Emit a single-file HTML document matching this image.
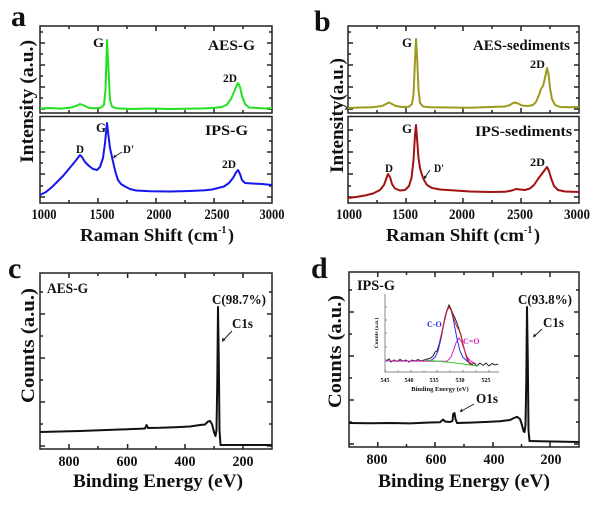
<!DOCTYPE html>
<html><head><meta charset="utf-8"><style>
html,body{margin:0;padding:0;background:#fff;}
svg{display:block;}
text{font-family:"Liberation Serif",serif;font-weight:bold;fill:#111;}
</style></head><body>
<svg width="601" height="511" viewBox="0 0 601 511" xmlns="http://www.w3.org/2000/svg">
<rect width="601" height="511" fill="#fff"/>

<!-- ================= Panel a ================= -->
<text x="11" y="26" font-size="30">a</text>
<g stroke="#222" stroke-width="1.5" fill="none">
<rect x="40" y="26" width="232" height="87"/>
<rect x="40" y="116.5" width="232" height="86.5"/>
<path d="M69,26v3M98,26v5M127,26v3M156,26v5M185,26v3M214,26v5M243,26v3
M69,113v-3M98,113v-5M127,113v-3M156,113v-5M185,113v-3M214,113v-5M243,113v-3
M69,203v-3M98,203v-5M127,203v-3M156,203v-5M185,203v-3M214,203v-5M243,203v-3
M40,32h3M40,43h5M40,54h3M40,65h5M40,76h3M40,87h5M40,98h3M40,109h5
M272,32h-3M272,43h-5M272,54h-3M272,65h-5M272,76h-3M272,87h-5M272,98h-3M272,109h-5
M40,130h5M40,141h3M40,152h5M40,163h3M40,174h5M40,186h3M40,197h5
M272,130h-5M272,141h-3M272,152h-5M272,163h-3M272,174h-5M272,186h-3M272,197h-5"/>
</g>
<path fill="none" stroke="#22e022" stroke-width="2" stroke-linejoin="round" d="M40,108.5 L50,108 L60,108.6 L70,107.8 L76,106 L80,104 L84,105.5 L89,108 L95,108.3 L101,107.6 L104,105 L105.5,90 L107,40 L108.5,70 L110,100 L112,106.5 L116,108.3 L130,109 L150,108.5 L170,109 L190,108.6 L205,108.4 L215,107.8 L222,107 L227,104.5 L231,99 L234,92 L236.5,86 L238,83 L240,87 L242,96 L245,104 L249,107.5 L258,108 L265,108.5 L272,108"/>
<path fill="none" stroke="#1616ee" stroke-width="2" stroke-linejoin="round" d="M40,195 L46,192 L52,187 L58,181 L63,176 L68,170 L73,164 L77,159 L80,155 L82,157 L85,162 L89,166 L93,169 L97,170 L100,167 L103,158 L105,143 L106.5,128 L107,123 L108,132 L110,148 L112,157 L114,166 L116,174 L118,180 L121,184 L125,186.5 L130,189 L136,190.5 L150,191.2 L170,191.5 L190,191 L205,190.3 L212,189.5 L218,188 L224,186.5 L229,183 L233,178 L236,172.5 L238,170 L240,174 L242,180 L245,183 L252,183.5 L262,184 L272,185"/>
<text x="93" y="47" font-size="13" textLength="11" lengthAdjust="spacingAndGlyphs">G</text>
<text x="208" y="50" font-size="15" textLength="47" lengthAdjust="spacingAndGlyphs">AES-G</text>
<text x="223" y="82" font-size="12" textLength="14" lengthAdjust="spacingAndGlyphs">2D</text>
<text x="96" y="132" font-size="13" textLength="10" lengthAdjust="spacingAndGlyphs">G</text>
<text x="205" y="135" font-size="15" textLength="43" lengthAdjust="spacingAndGlyphs">IPS-G</text>
<text x="76" y="153" font-size="12" textLength="8" lengthAdjust="spacingAndGlyphs">D</text>
<text x="123" y="153" font-size="12" textLength="11" lengthAdjust="spacingAndGlyphs">D'</text>
<path d="M122,152 L114,157" stroke="#222" stroke-width="1"/>
<path d="M113,158 L114.5,154.5 L116.5,157.2Z" fill="#222"/>
<text x="222" y="168" font-size="12" textLength="14" lengthAdjust="spacingAndGlyphs">2D</text>
<g font-size="15" text-anchor="middle">
<text x="44" y="219" textLength="25" lengthAdjust="spacingAndGlyphs">1000</text>
<text x="102" y="219" textLength="25" lengthAdjust="spacingAndGlyphs">1500</text>
<text x="159" y="219" textLength="25" lengthAdjust="spacingAndGlyphs">2000</text>
<text x="217" y="219" textLength="25" lengthAdjust="spacingAndGlyphs">2500</text>
<text x="272" y="219" textLength="25" lengthAdjust="spacingAndGlyphs">3000</text>
</g>
<text x="80" y="241" font-size="18" textLength="138" lengthAdjust="spacingAndGlyphs">Raman Shift (cm</text>
<text x="218" y="233" font-size="10">-1</text>
<text x="228" y="241" font-size="18">)</text>
<text transform="translate(33,101.5) rotate(-90)" font-size="19" text-anchor="middle" textLength="123" lengthAdjust="spacingAndGlyphs">Intensity (a.u.)</text>

<!-- ================= Panel b ================= -->
<text x="314" y="31" font-size="30">b</text>
<g stroke="#222" stroke-width="1.5" fill="none">
<rect x="348" y="26" width="231" height="87"/>
<rect x="348" y="116.5" width="231" height="86.5"/>
<path d="M377,26v3M406,26v5M435,26v3M463,26v5M492,26v3M521,26v5M550,26v3
M377,113v-3M406,113v-5M435,113v-3M463,113v-5M492,113v-3M521,113v-5M550,113v-3
M377,203v-3M406,203v-5M435,203v-3M463,203v-5M492,203v-3M521,203v-5M550,203v-3
M348,32h3M348,43h5M348,54h3M348,65h5M348,76h3M348,87h5M348,98h3M348,109h5
M579,32h-3M579,43h-5M579,54h-3M579,65h-5M579,76h-3M579,87h-5M579,98h-3M579,109h-5
M348,130h5M348,141h3M348,152h5M348,163h3M348,174h5M348,186h3M348,197h5
M579,130h-5M579,141h-3M579,152h-5M579,163h-3M579,174h-5M579,186h-3M579,197h-5"/>
</g>
<path fill="none" stroke="#9c9a1c" stroke-width="2" stroke-linejoin="round" d="M348,108 L360,107.5 L372,107.2 L382,106 L386,104 L389,102.5 L392,104 L396,106 L402,107 L409,106.8 L412,104 L413.5,95 L415,60 L416,39 L417,55 L418.5,90 L420,103 L423,106.5 L430,107.2 L450,107.5 L470,107.8 L490,107 L505,106.5 L510,105 L514,102.5 L518,103.5 L522,105.5 L528,106 L533,105 L536,102 L539,95 L541,89 L543,86 L545,78 L547,68 L548.5,74 L550,88 L552,99 L555,105 L560,107 L570,107.3 L579,107"/>
<path fill="none" stroke="#a01212" stroke-width="2" stroke-linejoin="round" d="M348,198 L356,197 L365,195.5 L373,193.5 L380,190 L384,185 L386.5,178 L388,174 L390,177 L392,184 L395,188.5 L400,190.5 L405,190 L409,186 L411.5,178 L413.5,160 L415,135 L416,125 L417,138 L418.5,158 L420,168 L422,175 L424,180 L427,185 L432,188 L440,189.5 L455,190.5 L470,191.5 L490,192 L505,191.8 L512,190.5 L516,189 L520,189.5 L525,190 L530,188.5 L534,185 L538,179 L541,175 L544,171 L547,167 L549,171 L551,178 L554,186 L558,190 L565,191.5 L579,192"/>
<text x="402" y="47" font-size="13" textLength="10" lengthAdjust="spacingAndGlyphs">G</text>
<text x="473" y="50" font-size="15" textLength="97" lengthAdjust="spacingAndGlyphs">AES-sediments</text>
<text x="530" y="68" font-size="12" textLength="15" lengthAdjust="spacingAndGlyphs">2D</text>
<text x="402" y="133" font-size="13" textLength="10" lengthAdjust="spacingAndGlyphs">G</text>
<text x="475" y="136" font-size="15" textLength="97" lengthAdjust="spacingAndGlyphs">IPS-sediments</text>
<text x="385" y="172" font-size="12" textLength="8" lengthAdjust="spacingAndGlyphs">D</text>
<text x="434" y="172" font-size="12" textLength="10" lengthAdjust="spacingAndGlyphs">D'</text>
<path d="M430,170 L424.5,178" stroke="#222" stroke-width="1"/>
<path d="M424,179.5 L424,175.5 L427,177Z" fill="#222"/>
<text x="530" y="166" font-size="12" textLength="15" lengthAdjust="spacingAndGlyphs">2D</text>
<g font-size="15" text-anchor="middle">
<text x="349" y="219" textLength="26" lengthAdjust="spacingAndGlyphs">1000</text>
<text x="405" y="219" textLength="26" lengthAdjust="spacingAndGlyphs">1500</text>
<text x="462" y="219" textLength="26" lengthAdjust="spacingAndGlyphs">2000</text>
<text x="520" y="219" textLength="26" lengthAdjust="spacingAndGlyphs">2500</text>
<text x="577" y="219" textLength="26" lengthAdjust="spacingAndGlyphs">3000</text>
</g>
<text x="386" y="241" font-size="18" textLength="138" lengthAdjust="spacingAndGlyphs">Raman Shift (cm</text>
<text x="524" y="233" font-size="10">-1</text>
<text x="534" y="241" font-size="18">)</text>
<text transform="translate(343,115.5) rotate(-90)" font-size="19" text-anchor="middle" textLength="115" lengthAdjust="spacingAndGlyphs">Intensity(a.u.)</text>

<!-- ================= Panel c ================= -->
<text x="8" y="278" font-size="30">c</text>
<g stroke="#222" stroke-width="1.5" fill="none">
<rect x="40" y="273" width="232" height="176"/>
<path d="M69,273v5M98,273v3M127.6,273v5M156,273v3M185,273v5M214,273v3M243,273v5
M69,449v-5M98,449v-3M127.6,449v-5M156,449v-3M185,449v-5M214,449v-3M243,449v-5
M40,292h3M40,314h5M40,336h3M40,358h5M40,380h3M40,402h5M40,424h3M40,446h5
M272,292h-3M272,314h-5M272,336h-3M272,358h-5M272,380h-3M272,402h-5M272,424h-3M272,446h-5"/>
</g>
<path fill="none" stroke="#111" stroke-width="2" stroke-linejoin="round" d="M40,432 L60,431.5 L80,431 L100,430.3 L120,429.5 L140,428.8 L145,428.5 L146.5,425 L148,428 L160,427.8 L175,427.2 L190,426.5 L200,425 L205,424.5 L208,421.5 L210,421 L212,424 L214,432 L215.5,436 L216.5,430 L217.3,380 L218,307 L218.8,360 L219.5,430 L220.5,445 L230,445 L250,445 L272,445"/>
<text x="47" y="293" font-size="15" textLength="41" lengthAdjust="spacingAndGlyphs">AES-G</text>
<text x="212" y="304" font-size="14" textLength="54" lengthAdjust="spacingAndGlyphs">C(98.7%)</text>
<text x="232" y="328" font-size="14" textLength="21" lengthAdjust="spacingAndGlyphs">C1s</text>
<path d="M232,331 L223.5,340" stroke="#222" stroke-width="1"/>
<path d="M222,342 L222.5,337.5 L225.5,340Z" fill="#222"/>
<g font-size="15" text-anchor="middle">
<text x="69" y="466" textLength="21" lengthAdjust="spacingAndGlyphs">800</text>
<text x="127" y="466" textLength="21" lengthAdjust="spacingAndGlyphs">600</text>
<text x="185" y="466" textLength="21" lengthAdjust="spacingAndGlyphs">400</text>
<text x="243" y="466" textLength="21" lengthAdjust="spacingAndGlyphs">200</text>
</g>
<text x="73" y="487" font-size="19" textLength="170" lengthAdjust="spacingAndGlyphs">Binding Energy (eV)</text>
<text transform="translate(34,345.5) rotate(-90)" font-size="19" text-anchor="middle" textLength="115" lengthAdjust="spacingAndGlyphs">Counts (a.u.)</text>

<!-- ================= Panel d ================= -->
<text x="311" y="278" font-size="30">d</text>
<g stroke="#222" stroke-width="1.5" fill="none">
<rect x="349" y="272" width="230" height="175"/>
<path d="M377.75,272v5M406.5,272v3M435,272v5M464,272v3M493,272v5M521.5,272v3M550,272v5
M377.75,447v-5M406.5,447v-3M435,447v-5M464,447v-3M493,447v-5M521.5,447v-3M550,447v-5
M349,290h3M349,312h5M349,334h3M349,356h5M349,378h3M349,400h5M349,422h3M349,444h5
M579,290h-3M579,312h-5M579,334h-3M579,356h-5M579,378h-3M579,400h-5M579,422h-3M579,444h-5"/>
</g>
<path fill="none" stroke="#111" stroke-width="2" stroke-linejoin="round" d="M349,423 L370,423.3 L390,423 L410,423.4 L430,422.5 L440,422.3 L443,419.5 L445,421.5 L450,422 L452.5,421 L453.2,414 L454.5,413 L455.5,419 L457,423 L470,422.6 L485,422 L500,421.2 L510,420 L514,418 L517,416.8 L520,419 L522,425 L523.5,431 L524.5,432 L525.5,425 L526.3,380 L527,307 L527.8,360 L528.5,430 L529.5,441 L540,441.3 L560,441.6 L579,442"/>
<text x="357" y="290" font-size="15" textLength="38" lengthAdjust="spacingAndGlyphs">IPS-G</text>
<text x="518" y="304" font-size="14" textLength="54" lengthAdjust="spacingAndGlyphs">C(93.8%)</text>
<text x="543" y="327" font-size="14" textLength="21" lengthAdjust="spacingAndGlyphs">C1s</text>
<path d="M542,329 L534.5,336" stroke="#222" stroke-width="1"/>
<path d="M533,337.5 L534,333.5 L536.5,336Z" fill="#222"/>
<text x="476" y="403" font-size="14" textLength="22" lengthAdjust="spacingAndGlyphs">O1s</text>
<path d="M474,404 L461.5,411" stroke="#222" stroke-width="1"/>
<path d="M459.5,412 L461.5,408.5 L463,411.5Z" fill="#222"/>
<g font-size="15" text-anchor="middle">
<text x="377" y="464" textLength="21" lengthAdjust="spacingAndGlyphs">800</text>
<text x="436" y="464" textLength="21" lengthAdjust="spacingAndGlyphs">600</text>
<text x="494" y="464" textLength="21" lengthAdjust="spacingAndGlyphs">400</text>
<text x="551" y="464" textLength="21" lengthAdjust="spacingAndGlyphs">200</text>
</g>
<text x="378" y="487" font-size="19" textLength="172" lengthAdjust="spacingAndGlyphs">Binding Energy (eV)</text>
<text transform="translate(341,351.5) rotate(-90)" font-size="19" text-anchor="middle" textLength="113" lengthAdjust="spacingAndGlyphs">Counts (a.u.)</text>

<!-- inset -->
<g stroke="#888" stroke-width="1" fill="none">
<path d="M385,294 V372 H499"/>
<path d="M385,307h2M385,320h2M385,333h2M385,347h2M385,360h2
M385.5,372v-2M398,372v-1.5M411,372v-2M424,372v-1.5M437,372v-2M450,372v-1.5M463,372v-2M476,372v-1.5M489,372v-2"/>
</g>
<path fill="none" stroke="#222" stroke-width="1" d="M386,361 L389,359 L391,362 L394,360 L397,361.5 L400,359.5 L403,361 L406,360 L409,362 L412,360 L415,361 L418,359.5 L421,361 L424,360 L427,359 L430,358.5 L433,356 L435,352 L437,351 L439,345 L441,337 L443,327 L445,317 L447,310 L449,305 L451,309 L453,314 L455,318 L457,323 L459,329 L461,335 L463,344 L465,352 L467,359 L469,363 L471,365 L474,363 L477,366 L480,363 L483,365.5 L486,363 L489,366 L492,363.5 L495,365 L498,364"/>
<path fill="none" stroke="#d020c0" stroke-width="1" d="M386,361 L447,361.3 L451,357 L454,349 L456,342.8 L459,338 L462,342.8 L464,349 L467,357 L471,361.3 L476,364"/>
<path fill="none" stroke="#2a2aee" stroke-width="1" d="M431,360.4 L435,357.4 L438,351 L441,338.8 L443,328.2 L445,317.8 L447,309.9 L449,307 L451,309.9 L453,317.8 L455,328.2 L457,338.8 L460,351 L463,357.4 L467,361 L472,364"/>
<path fill="none" stroke="#30d030" stroke-width="1" d="M425,360 Q450,362 478,366"/>
<path fill="none" stroke="#e02020" stroke-width="1" d="M440,340 L444,323 L447,311 L449,307 L451,310 L453,316 L455,322 L457,327 L459,330 L461,336 L463,345 L466,355 L469,362 L473,365"/>
<text x="427" y="327" font-size="8" style="fill:#2a2aee">C-O</text>
<text x="463" y="344" font-size="8" style="fill:#d020c0">C=O</text>
<g font-size="6" text-anchor="middle" style="font-weight:normal">
<text x="385" y="382">545</text>
<text x="409" y="382">540</text>
<text x="434" y="382">535</text>
<text x="460" y="382">530</text>
<text x="486" y="382">525</text>
<text x="440" y="391" font-size="6.5" style="font-weight:bold">Binding Energy (eV)</text>
</g>
<text transform="translate(378,333) rotate(-90)" font-size="5.5" text-anchor="middle">Counts (a.u.)</text>
</svg>
</body></html>
